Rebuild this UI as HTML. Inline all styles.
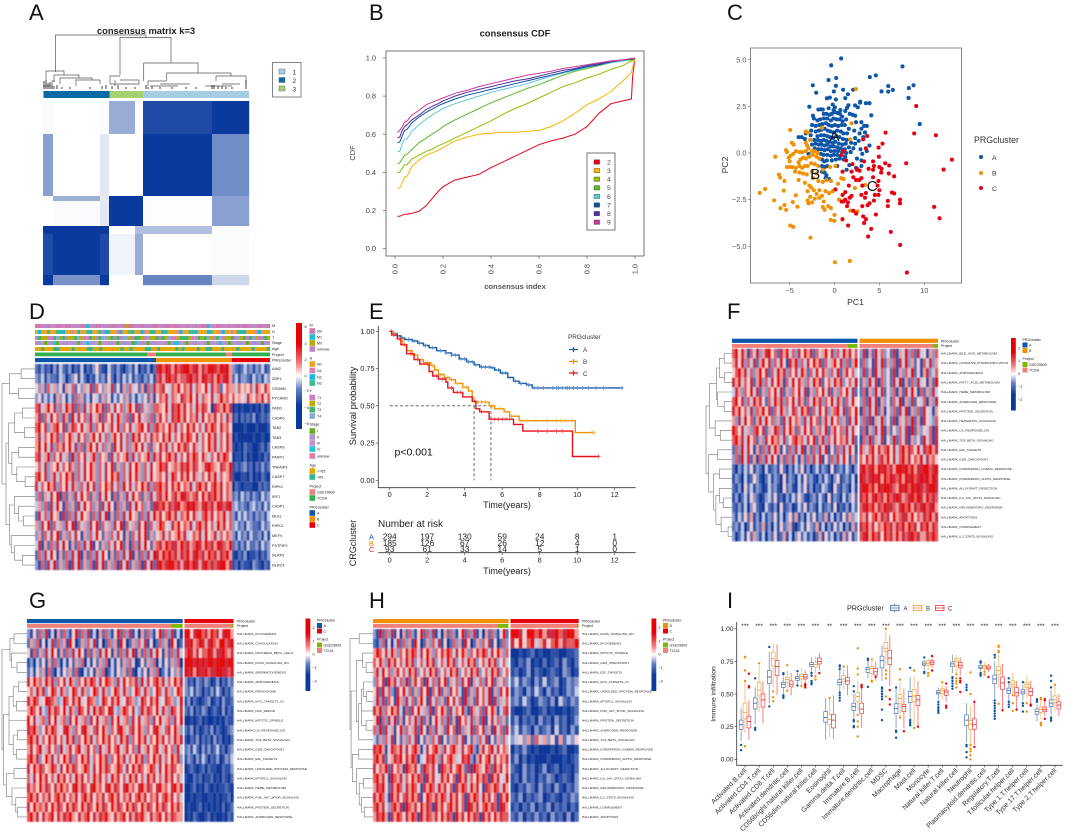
<!DOCTYPE html>
<html lang="en">
<head>
<meta charset="utf-8">
<title>PRG cluster multi-panel figure</title>
<style>
html,body{margin:0;padding:0;background:#fff;width:1065px;height:832px;overflow:hidden}
svg{display:block;font-family:"Liberation Sans",sans-serif}
</style>
</head>
<body>
<svg id="fig" xmlns="http://www.w3.org/2000/svg" width="1065" height="832" viewBox="0 0 1065 832">
<defs>
<filter id="soft" x="-2%" y="-2%" width="104%" height="104%"><feGaussianBlur stdDeviation="0.45"/></filter>
<linearGradient id="ramp" x1="0" y1="0" x2="0" y2="1">
<stop offset="0" stop-color="#e60008"/><stop offset=".2" stop-color="#e60008"/><stop offset=".38" stop-color="#f08080"/><stop offset=".5" stop-color="#ffffff"/><stop offset=".62" stop-color="#6a80c0"/><stop offset=".78" stop-color="#0a3a9a"/><stop offset="1" stop-color="#0a3a9a"/>
</linearGradient>
</defs>
<rect width="1065" height="832" fill="#fff"/>
<g font-size="22" fill="#111">
<text x="29" y="20">A</text>
<text x="369" y="20">B</text>
<text x="727" y="20">C</text>
<text x="29" y="319">D</text>
<text x="369" y="319">E</text>
<text x="727" y="319">F</text>
<text x="29" y="608">G</text>
<text x="369" y="608">H</text>
<text x="727" y="608">I</text>
</g>
<g id="pA">
<path fill="none" stroke="#555" stroke-width=".7" d="M55.5 72V35H146M146 35V37.5M120 75V37.5H171V63M143.7 81V63H198V73M166.7 81V73H231V76M216 81V76H246V82M46 80V71H64V75M54 82V75H79V78M60 84V78H92V80M76 86V80H100V84M110 84V76H120M110 84H139V80H120M115 86V80M148 86V81H166M150 86H178M160 84H190M205 86H232M222 84H240M43 86H50V83M52 88V81H55"/>
<path fill="none" stroke="#111" stroke-width=".8" d="M44 89V81M46 89V80M48 89V83M50 89V82M52 89V85M54 89V86M57 89V85M62 89V87M70 89V87M90 89V87M102 89V86M106 89V85M112 89V86M118 89V85M126 89V87M135 89V87M146 89V85M148 89V87M152 89V86M160 89V87M172 89V87M186 89V87M196 89V87M212 89V85M214 89V85M218 89V86M222 89V86M226 89V87M232 89V87M246 89V80"/>
<text x="146" y="34" text-anchor="middle" font-size="9.4" font-weight="bold" fill="#222">consensus matrix k=3</text>
<rect x="43.5" y="91" width="66" height="7" fill="#0a6aa8"/>
<rect x="109.5" y="91" width="33.5" height="7" fill="#a6d16f"/>
<rect x="143" y="91" width="106" height="7" fill="#a6cee3"/>
<g id="matrixCells"></g>
<g font-size="6.5" fill="#333">
<rect x="272.5" y="62.5" width="28.5" height="34.5" fill="#fff" stroke="#666" stroke-width=".8"/>
<rect x="279" y="69" width="6" height="5" fill="#a6cee3" stroke="#555" stroke-width=".4"/>
<rect x="279" y="77.5" width="6" height="5" fill="#0a6aa8" stroke="#555" stroke-width=".4"/>
<rect x="279" y="86" width="6" height="5" fill="#a6d16f" stroke="#555" stroke-width=".4"/>
<text x="292.5" y="74.5">1</text>
<text x="292.5" y="83">2</text>
<text x="292.5" y="91.5">3</text>
</g>
</g>
<g id="pB">
<text x="515" y="36.5" text-anchor="middle" font-size="9.4" font-weight="bold" fill="#222">consensus CDF</text>
<rect x="386" y="51" width="258" height="205" fill="none" stroke="#666" stroke-width=".9"/>
<text x="515" y="289" text-anchor="middle" font-size="7.6" font-weight="bold" fill="#555">consensus index</text>
<text transform="translate(355 153) rotate(-90)" text-anchor="middle" font-size="7.4" fill="#444">CDF</text>
</g>
<g id="pC">
<rect x="750.5" y="48" width="211" height="235" fill="none" stroke="#888" stroke-width="1"/>
<text x="855.5" y="305" text-anchor="middle" font-size="8.6" fill="#333">PC1</text>
<text transform="translate(728 165) rotate(-90)" text-anchor="middle" font-size="8.6" fill="#333">PC2</text>
<text x="974" y="143" font-size="8.8" fill="#333">PRGcluster</text>
<circle cx="981" cy="157" r="2" fill="#0d56a8"/>
<circle cx="981" cy="173" r="2" fill="#f29100"/>
<circle cx="981" cy="188" r="2" fill="#e60012"/>
<text x="992" y="160" font-size="6.8" fill="#333">A</text>
<text x="992" y="175.5" font-size="6.8" fill="#333">B</text>
<text x="992" y="191" font-size="6.8" fill="#333">C</text>
</g>
<g id="pD"></g>
<g id="pE">
<text x="394.5" y="455.7" font-size="10.5" fill="#111">p&lt;0.001</text>
<text x="507" y="508" text-anchor="middle" font-size="9" fill="#222">Time(years)</text>
<text transform="translate(356 406) rotate(-90)" text-anchor="middle" font-size="9.4" fill="#222">Survival probability</text>
<text x="378" y="527" font-size="10" fill="#222">Number at risk</text>
<text x="507" y="574" text-anchor="middle" font-size="9" fill="#222">Time(years)</text>
<text transform="translate(356 543) rotate(-90)" text-anchor="middle" font-size="9" fill="#222">CRGcluster</text>
<text x="568" y="339" font-size="6.4" fill="#333">PRGcluster</text>
<text x="583" y="352" font-size="6.2" fill="#333">A</text>
<text x="583" y="364" font-size="6.2" fill="#333">B</text>
<text x="583" y="376" font-size="6.2" fill="#333">C</text>
<path d="M569 349.5H578M573.5 347V352" stroke="#1a5cab" stroke-width="1.3" fill="none"/>
<path d="M569 361.5H578M573.5 359V364" stroke="#f29100" stroke-width="1.3" fill="none"/>
<path d="M569 373H578M573.5 370.5V375.5" stroke="#e8101c" stroke-width="1.3" fill="none"/>
</g>
<g id="pF"></g>
<g id="pG"></g>
<g id="pH"></g>
<g id="pI">
<text x="847" y="610.5" font-size="7.2" fill="#222">PRGcluster</text>
<text transform="translate(715.5 694) rotate(-90)" text-anchor="middle" font-size="6.8" fill="#222">Immune infiltration</text>
<g fill="#fff" stroke-width=".8">
<path d="M894.5 604V612" stroke="#3f6db5"/>
<rect x="890.5" y="605.5" width="8.5" height="5" stroke="#3f6db5"/>
<path d="M890.5 608H899" stroke="#3f6db5"/>
<rect x="913.5" y="605.5" width="8.5" height="5" stroke="#f0a030"/>
<path d="M913.5 608H922" stroke="#f0a030"/>
<rect x="935.5" y="605.5" width="8.5" height="5" stroke="#e8303a"/>
<path d="M935.5 608H944" stroke="#e8303a"/>
</g>
<text x="903.5" y="610.5" font-size="6" fill="#333">A</text>
<text x="926" y="610.5" font-size="6" fill="#333">B</text>
<text x="948" y="610.5" font-size="6" fill="#333">C</text>
</g>
</svg>
<script>
/* ---------- panel A data ---------- */
const matrixColSizes=[10,47,9,26,8,69,37];
const matrixRowSizes=[33,62,5,25,8,41,10];
const matrixValues=[
[.02,0,.02,.42,.01,.92,1],
[.48,0,.12,0,.01,1,.58],
[0,.4,.1,1,1,.02,.48],
[0,.02,.12,1,1,.01,.48],
[1,1,1,0,.32,.32,.01],
[.92,1,.92,.06,.42,0,.02],
[1,.55,1,0,0,.62,.2]];
/* ---------- panel B data ---------- */
const cdfIndex=[.01,.02,.03,.04,.05,.07,.1,.13,.16,.18,.2,.25,.3,.35,.4,.45,.5,.55,.6,.65,.7,.75,.8,.85,.9,.95,.985,.99,1];
const cdfK2=[.17,.17,.175,.18,.18,.185,.195,.225,.27,.3,.325,.36,.375,.39,.425,.455,.485,.515,.545,.565,.58,.6,.64,.71,.76,.775,.785,.9,1];
const cdfK3=[.315,.32,.345,.375,.38,.43,.465,.49,.505,.515,.53,.565,.585,.6,.605,.61,.61,.615,.62,.64,.67,.71,.755,.785,.825,.88,.925,.95,1];
const cdfK4=[.4,.4,.42,.44,.44,.47,.49,.51,.525,.54,.55,.58,.61,.64,.67,.705,.735,.76,.79,.82,.85,.87,.895,.915,.94,.96,.985,.985,1];
const cdfK5=[.445,.45,.47,.49,.495,.52,.555,.58,.605,.62,.64,.675,.705,.735,.765,.79,.815,.84,.86,.885,.91,.93,.945,.96,.975,.985,.99,.99,1];
const cdfK6=[.51,.51,.55,.575,.575,.615,.65,.68,.705,.72,.735,.76,.78,.8,.82,.835,.85,.865,.885,.905,.92,.935,.95,.965,.975,.985,.995,.995,1];
const cdfK7=[.555,.56,.59,.62,.625,.66,.69,.715,.735,.75,.76,.785,.805,.82,.835,.85,.865,.88,.895,.91,.925,.94,.955,.965,.98,.99,.995,.995,1];
const cdfK8=[.58,.585,.62,.64,.65,.675,.7,.73,.75,.76,.775,.8,.82,.835,.85,.865,.88,.89,.905,.92,.935,.945,.96,.97,.98,.99,.995,.995,1];
const cdfK9=[.61,.62,.64,.665,.67,.7,.725,.755,.77,.78,.79,.815,.83,.85,.865,.88,.895,.91,.92,.93,.945,.955,.965,.975,.985,.99,.998,.998,1];
const cdfSeries=[cdfK2,cdfK3,cdfK4,cdfK5,cdfK6,cdfK7,cdfK8,cdfK9];
const cdfLabels=['2','3','4','5','6','7','8','9'];
const cdfColors=['#e6001a','#f7b500','#8cc000','#5db82c','#5ec8d8','#0b4ea2','#5030a0','#c83c98'];
const cdfTicks=[0,.2,.4,.6,.8,1];
/* ---------- panel C data ---------- */
const pcaA=[[.74,5.07],[-.37,4.7],[7.58,4.64],[-.67,3.91],[.19,4.02],[4.61,4.16],[3.94,4.07],[-2.42,3.63],[5.99,3.59],[8.81,3.63],[8.29,3.48],[6.5,3.38],[5.99,3.29],[5.24,3.3],[-2.04,3.23],[-.07,3.3],[.15,3.6],[.96,3.39],[2.08,3.39],[8.25,2.95],[1.5,3.15],[1.2,2.94],[-.85,2.93],[-.52,2.97],[.15,2.87],[2.87,2.75],[3.5,2.67],[3.9,2.67],[2.3,2.55],[1.55,2.56],[1.4,2.42],[-2.81,2.48],[9.5,1.55],[4.1,2.02],[2.85,2.7],[-.2,2.6],[.04,2.45],[-.1,2.3],[-1.8,2.33],[-1.5,2.34],[-1.3,2.33],[-1.2,2.1],[-.65,2.4],[.65,2.3],[1.2,2.25],[1.7,2.1],[2.0,2.05],[2.3,2.0],[2.6,2.45],[-.9,2.1],[-.55,2.05],[-.3,2.1],[0,2.2],[.3,2.15],[.6,2.1],[.85,1.95],[-2.4,2.0],[-2.3,1.85],[-1.9,1.75],[-1.6,1.8],[-1.2,1.85],[-.8,1.85],[-.4,1.75],[-.1,1.85],[.25,1.8],[.55,1.8],[.9,1.7],[1.3,1.8],[2.4,1.65],[3,1.65],[3.6,1.45],[3.3,1.45],[-2.5,1.5],[-2.1,1.45],[-1.7,1.5],[-1.35,1.55],[-.95,1.6],[-.65,1.5],[-.3,1.45],[.05,1.5],[.4,1.45],[.8,1.5],[1.15,1.5],[1.6,1.3],[2.2,1.2],[3,1.3],[3.4,1.1],[2.8,1.05],[-2.6,1.2],[-2.1,1.15],[-1.75,1.2],[-1.45,1.25],[-1.1,1.3],[-.75,1.2],[-.45,1.15],[-.1,1.1],[.3,1.2],[.7,1.15],[1,1.05],[1.4,1.05],[-3.2,1.05],[-2.65,.95],[-1.9,.9],[-1.5,.95],[-1.15,.95],[-.8,.9],[-.5,.85],[-.15,.8],[.2,.9],[.55,.85],[.95,.75],[1.35,.7],[2.3,.8],[3.2,.85],[-4,.85],[-3.65,.85],[-3.3,.75],[-2.25,.7],[-1.85,.7],[-1.5,.65],[-1.2,.7],[-.9,.65],[-.55,.6],[-.2,.55],[.1,.6],[.5,.5],[.9,.45],[1.25,.5],[1.85,.55],[2.3,.5],[2.7,.65],[-2.5,.45],[-2.1,.5],[-1.75,.45],[-1.45,.45],[-1.1,.4],[-.8,.45],[-.45,.35],[-.1,.35],[.3,.3],[.7,.25],[1.15,.2],[1.6,.3],[2.1,.25],[2.9,.2],[3.9,.4],[-2.2,.25],[-1.8,.2],[-1.45,.2],[-1.1,.15],[-.75,.2],[-.4,.1],[0,.1],[.4,.1],[.85,.05],[1.3,0],[1.8,.05],[3.1,-.05],[3.6,.1],[-2.9,-.05],[-1.5,-.05],[-1.2,-.1],[-.8,-.1],[-.4,-.15],[-.1,-.1],[.3,-.1],[.7,-.15],[1.2,-.2],[2.5,-.3],[3,-.4],[-1.4,-.35],[-1.15,-.45],[-.85,-.4],[-.3,-.4],[.15,-.35],[.55,-.3],[1,-.35],[1.65,-.65],[-1.4,-.7],[-1.1,-.75],[-.8,-.7],[.3,-.7],[1.35,-.9],[-1.4,-1],[-1.1,-1.05],[-.9,-1.2],[-1,-1.35],[-.6,-1.4],[2.4,-.8],[3,-.7]];
const pcaB=[[2.38,3.43],[-4.94,1.23],[1.9,1.59],[1.75,.73],[-3.2,1.15],[-3,1.1],[-1.4,1.35],[-6.6,-.2],[-7.73,-1.93],[-8.33,-2.14],[-6.73,-2.54],[-6.02,-2.96],[-5.58,-2.79],[-5.39,-3.05],[-4.65,-2.63],[-4.13,-2.88],[-4.31,-2.27],[-5.65,-2.02],[-5.58,-1.5],[-6.06,-1.32],[-6.2,-1.16],[-4.94,-3.89],[-4.61,-3.96],[-2.68,-4.54],[.04,-5.86],[1.71,-5.79],[-.41,-3.59],[0,-3.64],[0,-3.32],[1.75,-3.09],[2.57,-3.13],[2.27,-1.88],[3.42,-1.71],[-4.75,.55],[-4.55,.45],[-3.2,.55],[-3.05,.4],[-2.7,.7],[-5.4,.15],[-5.3,.05],[-4.9,-.15],[-5.1,-.25],[-4.6,-.05],[-4.3,.1],[-3.9,.05],[-3.6,.05],[-3.2,.1],[-2.9,.25],[-2.5,.1],[-2.2,.1],[-1.9,0],[-5,-.45],[-5.3,-.75],[-5,-.75],[-4.7,-.75],[-4.3,-.8],[-4,-.5],[-3.8,-.35],[-3.5,-.25],[-3.2,-.3],[-2.8,-.2],[-2.4,-.1],[-2,-.2],[-1.7,-.3],[-3.9,-.7],[-3.6,-.8],[-3.3,-.7],[-3,-.7],[-2.6,-.55],[-2.2,-.6],[-1.8,-.7],[-4.4,-1.0],[-3.9,-1.05],[-3.5,-1.1],[-3.1,-1.15],[-2.5,-1],[-2,-1.1],[-1.3,-.9],[-.5,-.75],[.1,-.7],[-4,-1.45],[-3.3,-1.6],[-2.8,-1.75],[-2.4,-1.35],[-1.8,-1.5],[-1.3,-1.55],[-.9,-1.45],[-.4,-1.5],[.4,-1.65],[.75,-1.35],[1,-1.4],[-3,-2.05],[-2.6,-1.85],[-2.3,-2],[-2,-2.2],[-1.7,-2],[-1.4,-2.3],[-1,-2.05],[-.6,-2.15],[-.2,-2.05],[-2.7,-2.35],[-2.2,-2.45],[-1.7,-2.4],[-1.2,-2.6],[-3,-2.55],[-2.9,-2.7],[-2.5,-2.65],[-1.3,-2.9],[-1.1,-3.05],[-.7,-2.85],[-.4,-2.95],[.5,-2.5],[.8,-2.6]];
const pcaC=[[9.11,2.52],[8.88,1.05],[11.3,.95],[13.09,-.36],[12.16,-.89],[7.99,-.55],[5.69,1.09],[5.35,.5],[4.91,.29],[3.64,.91],[3.2,.73],[3.49,.25],[11.11,-2.89],[11.71,-3.5],[7.32,-4.93],[8.07,-6.41],[6.28,-4.23],[4.61,-3.3],[4.09,-4.07],[3.75,-4.48],[1.52,-3.89],[.89,-3.55],[7.3,-2.5],[7.3,-2.7],[5.95,-2.57],[5.95,-2.85],[6.4,-2.12],[6.65,-2.17],[6.65,-1.25],[6.05,-1.1],[6.1,-.67],[5.65,-.55],[1,.1],[.8,-.1],[1.3,-.4],[2,-.6],[2.5,-.85],[3.3,-.45],[4.3,-.45],[4.95,-.2],[4.4,-.7],[5,-.75],[5.25,-.85],[5.2,-1.05],[4.3,-.9],[3.8,-.85],[2.5,-.9],[2.8,-.95],[1.9,-1],[.9,-1],[2.1,-1.3],[2.4,-1.45],[2.75,-1.45],[3,-1.35],[4.3,-1.3],[4.9,-1.5],[1.6,-1.75],[1.2,-2.1],[.1,-1.95],[3.1,-1.75],[3.5,-2.15],[3,-2.25],[3.4,-2.4],[4.8,-1.75],[5,-2],[4.9,-2.25],[4.5,-2.25],[4.4,-2.55],[3.9,-2.7],[3.7,-2.8],[.9,-2.25],[1,-2.6],[1.2,-2.5],[1.7,-2.4],[1.9,-2.3],[.8,-2.6],[1.5,-2.65],[1.4,-2.85],[3.1,-2.85],[2.1,-3.1],[2.4,-3.25],[3.2,-3.4],[3.5,-3.55],[3.3,-3.75]];
const pcaXTicks=[-5,0,5,10];
const pcaYTicks=[-5,-2.5,0,2.5,5];
const pcaYLabels=['−5.0','−2.5','0.0','2.5','5.0'];
const pcaXLabels=['−5','0','5','10'];
const pcaCentroids=[['A',0,.95],['B',-2.15,-1.1],['C',4.2,-1.75]];
/* ---------- panel D data ---------- */
const geneLabels=['AIM2','ZBP1','GSDMD','PYCARD','FADD','CASP6','TAB2','TAB3','CASP8','PARP1','TNFAIP3','CASP7','RIPK1','IRF1','CASP1','MLKL','RIPK3','MEFV','PSTPIP2','NLRP3','NLRC4'];
const geneRows=[
"2131203142130214021352104213102314021302|8979869789978968799879896|3212423132412",
"3241322143023514202142315203142413213241|7868978677897869878697896|2413321423143",
"5362746351647253648275364825163745261738|6785476957684765948672576|6475657486586",
"3524241635142736241542635142536241435261|5768476587695847658469675|7565486576857",
"7846958374968273847596827485736958274637|7659487968574968750876968|0101001010201",
"6827495738629485739468275849637285946372|6857487968576849576857486|1202121301212",
"7958367958268759468375946859375846795837|8675968475968574869758675|0000100010001",
"6847596837596485736958473695847396857486|7586947586975847596847586|0100000100100",
"6959483768594837269584736295847369584726|5868475968758647596847586|1010211001202",
"7846937584629375846937562847569384756938|6857968475869758647586975|0110201001021",
"5748365947586374859637485926374859637485|6978567687968756897658769|1212312021312",
"7958368475968374859637485968374958637495|6758497586958647586947568|1001102010210",
"8475968375948637495837596847395847596837|7968586957684796857968576|0210111002121",
"3726485917263849572638495172638495726384|7869578698767859687968576|2314231321423",
"4637284951736284957362849517362849573628|8796878967989768978698789|3423213423142",
"2847395618273849562738491627384956273849|6857968476958647968576947|3142423132314",
"6385927463859174638592746385917463859274|6975486957684796857496857|3423143221423",
"3627485926374851637495263748516274859263|5684756968457684956847576|3142314223141",
"4816273849516273849152637485926173849526|7869788697867986978698769|2313142231423",
"2738495162738491627384951627384916273849|8697978687968978697868796|1021301120213",
"3172849263718492637184926371849263718492|8978997868979868978789968|1202110321021"];
const geneTree=[1,[.78,[.42,0,1],[.5,2,3]],[.88,[.8,[.62,[.38,4,5],[.32,6,7]],[.7,[.5,8,9],[.55,10,[.3,11,12]]]],[.78,[.62,13,[.5,14,[.35,15,16]]],[.72,17,[.62,18,[.38,19,20]]]]]];
const trackNames=['M','N','T','Stage','Age'];
const trackM="aaddaddaadaadddaabddaadddaaddacaaddadddaaddaadaaddaddadaabddaaddaddadaadddadda";
const trackN="acaadaaddcaabacaadcaadbcdaabcaaddaacbaddaacdaaabcaaddcaaacdaabcaabaddcaaabcaaa";
const trackT="acbbaacdbcabbcdbaacbacddbcacaddbaccbadbbcacbdaabcccbaacbcdbacdabbcadbcacdbaacb";
const trackStage="bbcabbdacbbcbbabcdbbcaccbbcabbbcadcbbacbcccbabddcbacbbccbabcbdcbabcbbcacbbbabc";
const trackAge="aabaaabbaaaabaaaabbaabaaaaaabaabaaaabbaabaaaaababaaaabaabbaaabaaaabaaaabaaaab";
const trackRows=[trackM,trackN,trackT,trackStage,trackAge];
const trackColors=[['#d276ac','#20bcd6','#b5ae00','#bf86c8'],['#eaa51e','#dc7eb0','#12b6e6','#3ab892'],['#d07cc0','#bcae00','#3fb56a','#86a8de'],['#62ae1e','#a792d2','#c090d0','#20bedf'],['#e2a800','#34b48e']];
const trackLetters='abcd';
const legendGroupsD=[
['M',325,[['M0',331,'#d276ac'],['M1',337,'#20bcd6'],['MX',343,'#b5ae00'],['unknow',349,'#bf86c8']]],
['N',358,[['N0',364,'#eaa51e'],['N1',370.5,'#dc7eb0'],['N2',377,'#12b6e6'],['N3',383,'#3ab892']]],
['T',391,[['T1',397.5,'#d07cc0'],['T2',403.5,'#bcae00'],['T3',409.7,'#3fb56a'],['T4',416,'#86a8de']]],
['Stage',424,[['I',431,'#62ae1e'],['II',437,'#a792d2'],['III',443,'#c090d0'],['IV',449,'#20bedf'],['unknow',456,'#e878a8']]],
['Age',465,[['<=65',471,'#e2a800'],['>65',477,'#34b48e']]],
['Project',486,[['GSE29609',492,'#f08078'],['TCGA',498,'#30b050']]],
['PRGcluster',507,[['A',513,'#0a56a8'],['B',519,'#f29100'],['C',525,'#e60008']]]];
const colorbarTicksD=['6','4','2','0','−2','−4','−6'];
/* ---------- panel E data ---------- */
const kmTicksX=[0,2,4,6,8,10,12];
const kmTicksY=[0,.25,.5,.75,1];
const kmTimeA=[0,.2,.4,.6,.8,1.2,1.5,1.8,2.1,2.5,3,3.3,3.7,4.1,4.5,4.8,5.4,5.6,5.9,6.3,6.6,6.9,7.3,7.6,12.4];
const kmSurvA=[1,.985,.97,.955,.945,.935,.92,.905,.89,.87,.855,.84,.815,.795,.775,.76,.755,.74,.72,.69,.665,.65,.64,.62,.62];
const kmTimeB=[0,.2,.4,.7,.9,1.2,1.5,1.8,2.2,2.4,2.6,2.9,3.2,3.5,3.9,4.2,4.4,4.5,5.3,5.6,6.1,6.4,6.9,9.9,10.9];
const kmSurvB=[1,.98,.95,.91,.87,.84,.81,.79,.77,.74,.71,.69,.675,.65,.625,.6,.55,.525,.5,.48,.46,.43,.4,.32,.32];
const kmTimeC=[0,.1,.4,.6,.9,1.3,1.6,2.1,2.3,2.6,3,3.1,3.4,3.9,4.4,4.6,4.8,5.3,6.6,7.1,9.75,11.15];
const kmSurvC=[1,.975,.95,.91,.85,.81,.78,.73,.7,.68,.66,.62,.59,.56,.53,.48,.46,.41,.375,.33,.16,.16];
const censorA=[.1,.4,.7,1,1.3,1.6,1.9,2.3,2.7,3,3.3,3.5,3.8,4,4.2,4.4,4.6,4.9,5.1,5.3,5.5,5.8,6,6.2,6.7,7,7.4,7.7,7.9,8.2,8.7,8.9,9,9.2,9.4,9.5,9.6,9.8,10,10.3,10.6,11,11.4,12.4];
const censorB=[.1,.3,1.3,1.7,2,2.3,2.7,3.1,3.3,3.6,3.9,4.1,4.7,4.9,5.1,5.5,5.9,6.2,6.5,7,7.3,7.8,8.4,8.9,9.1,9.4,9.7,10.8,10.9];
const censorC=[.2,.5,.8,1.1,1.5,2,2.5,2.8,3.3,3.6,3.8,4.9,5.6,5.8,6,6.2,6.4,7.9,8.4,8.9,9.2,11.15];
const riskA=[294,197,130,59,24,8,1];
const riskB=[185,126,67,26,12,4,0];
const riskC=[93,61,33,14,5,1,0];
/* ---------- heatmaps F, G, H data ---------- */
const labelsF=['BILE_ACID_METABOLISM','OXIDATIVE_PHOSPHORYLATION','ADIPOGENESIS','FATTY_ACID_METABOLISM','HEME_METABOLISM','ANDROGEN_RESPONSE','PROTEIN_SECRETION','HEDGEHOG_SIGNALING','UV_RESPONSE_DN','TGF_BETA_SIGNALING','E2F_TARGETS','G2M_CHECKPOINT','INTERFERON_GAMMA_RESPONSE','INTERFERON_ALPHA_RESPONSE','ALLOGRAFT_REJECTION','IL6_JAK_STAT3_SIGNALING','INFLAMMATORY_RESPONSE','APOPTOSIS','COMPLEMENT','IL2_STAT5_SIGNALING'];
const rowsF=[
"795861749368957286947385968274695837496857|38162947352816493728451637",
"685937482695837495186937485968274695837269|27351849263718493625174836",
"579684736958274968375849627495863749268574|38261947352816374925168347",
"869475826937485961749586374968257496835749|26394817352849162738451629",
"486375948263759482637594816375948263759482|27163948253716284951726384",
"795837496852749683759486274968375948627495|37294816352749163825471638",
"869574837695827496358749682749583679482759|17384926153728491637285416",
"638495726849573628495763849572684957362849|37281649352816473926185437",
"975846379582649738596274958367492685739485|27163849162537481926354718",
"796849572638596748357967485926837495768492|17392648153927481635294718",
"273948516273849615273849162738491527384951|86479586795847968759487968",
"372948261738495162738416273849152738495162|75869478695847968576948675",
"203142513204123152031425130241320512314203|89789698978699897968899789",
"132041253102413205132041523103142035123140|98789896979879698978989798",
"213052413201423105231042513021431052132041|89979698998769897989878998",
"130241532013425120314253102314205132041352|87968978697898678979869787",
"213140352104213051230142513204123150213042|78979687988768979687897896",
"314252613041325140352613042513261403152634|76857968785967886957687968",
"231402513261304152361024153261403152403162|87968576978687969785879687",
"302415263140325126140352413026152403162513|78969785978696878978668797"];
const treeF=[1,[.87,[.6,[.48,[.3,0,1],[.28,2,3]],[.55,4,[.3,5,6]]],[.65,7,[.45,8,9]]],[.9,[.55,10,11],[.72,[.48,12,13],[.62,[.48,14,[.34,15,16]],[.42,17,[.15,18,19]]]]]];
const labelsG=['MYOGENESIS','COAGULATION','PANCREAS_BETA_CELLS','KRAS_SIGNALING_DN','SPERMATOGENESIS','ADIPOGENESIS','PEROXISOME','MYC_TARGETS_V1','DNA_REPAIR','MITOTIC_SPINDLE','UV_RESPONSE_DN','TGF_BETA_SIGNALING','G2M_CHECKPOINT','E2F_TARGETS','UNFOLDED_PROTEIN_RESPONSE','MTORC1_SIGNALING','HEME_METABOLISM','PI3K_AKT_MTOR_SIGNALING','PROTEIN_SECRETION','ANDROGEN_RESPONSE'];
const rowsG=[
"3152738140627315927381406273159273814062731592738140|99589978697858996",
"2637150482736195026374815027361950263748150273619502|88967986897699789",
"5172638495162738495172638495162738491627384951627384|79868577986889768",
"1304251627304152637041526370415263740152637041526370|99989898998999899",
"2415361720415362710425163702415362710425163702415362|98969889788998879",
"8596749683758496375869748597638495768394857968475968|31203213201302132",
"5749683597486359748635974863597486359748635974863597|32413202131420213",
"8697459876349758694587634975869458763497586945876349|13021012301203112",
"6975843968759486397584968759843697584396875948639758|21302132012103021",
"9584673859467385946738594673859467385946738594673859|00101201001010211",
"8796358697458963758964785963758964785963758964785963|21302012130210123",
"7968475968574968375968475968574968375968475968574968|10213021203120102",
"6857946857394685794685739468579468573946857946857394|23142031312412023",
"7968359684759683759684759683759684759683759684759683|13203142021301324",
"8596875697485968756974859687569748596875697485968756|01210120211002113",
"7485968574968574968574968574968574968574968574968574|10021201120102102",
"8675968758696758968758967589687589675896875896758968|00120102101011210",
"7968576857968576857968576857968576857968576857968574|00101100110101120",
"8596768596875968759687596875968759687596875968759686|01001201010102012",
"7968586795868796586795868796586795868796586795868766|01021001201001021"];
const treeG=[1,[.68,[.52,0,1],[.62,2,[.4,3,4]]],[.95,[.72,[.55,[.35,5,6],[.42,7,8]],[.72,9,[.55,[.38,10,11],[.42,12,13]]]],[.82,[.52,14,15],[.6,16,[.45,17,[.38,18,19]]]]]];
const labelsH=['KRAS_SIGNALING_DN','MYOGENESIS','MITOTIC_SPINDLE','G2M_CHECKPOINT','E2F_TARGETS','MYC_TARGETS_V1','UNFOLDED_PROTEIN_RESPONSE','MTORC1_SIGNALING','PI3K_AKT_MTOR_SIGNALING','PROTEIN_SECRETION','ANDROGEN_RESPONSE','TGF_BETA_SIGNALING','INTERFERON_GAMMA_RESPONSE','INTERFERON_ALPHA_RESPONSE','ALLOGRAFT_REJECTION','IL6_JAK_STAT3_SIGNALING','INFLAMMATORY_RESPONSE','IL2_STAT5_SIGNALING','COMPLEMENT','APOPTOSIS'];
const rowsH=[
"3192738150627315927381406273159273814062731592|99859979688978996",
"2137150482736195026374815027361950263748150273|85957946857968779",
"6975849637586974859637586974859637586974859637|00101201001100112",
"7586396857496835749683574968357496835749683574|10213010201203102",
"6849573685749683574968357496835749683574968357|12013021012103201",
"3758196847392685719473859264738591647385926473|24132031412301323",
"5829473185947263859174926385741926385749163859|13203142031201324",
"4938275196384726951847362958471936285749183647|23142013213042132",
"8693759684172859463817596284759318647285961478|10012001201001012",
"5917384926157493826159473826195748362915847362|13021203120312013",
"7392846159374682951738462957183649275836194728|24132031230412031",
"4263748152637481526374815263748152637481526374|34536274635162435",
"8796158769485796148579638579648579316857948576|02131010001012001",
"7968256879586971458796385796458793168579485768|13020100010001012",
"8576928576197685297685197685796281976587296857|21031201301201102",
"7968519768475968719685496857196847596871968549|12031202132012103",
"6879528697486975186974968571869749685187697496|10213203120310213",
"8697419685786968159768697496857186974968571869|21302123012102132",
"7968537968197685968719685796857198685796871986|12021302130212021",
"6879618697586971968768596871968596871968596877|21302131203120302"];
const treeH=[1,[.6,0,1],[.95,[.72,[.45,2,[.3,3,4]],[.62,[.5,[.42,5,[.28,6,7]],[.5,8,[.3,9,10]]],11]],[.9,[.62,12,13],[.72,14,[.6,[.42,15,16],[.5,17,[.38,18,19]]]]]]];
const colorScale=['#0a3496','#2b4fa6','#5570b6','#8a9ace','#c4cbe4','#f4d0d0','#ef9c98','#e45c60','#cc2c40','#e40808'];
const colorbarTicks=['2','1','0','−1','−2'];
/* ---------- panel I data: [whisker-low, q1, median, q3, whisker-high] ---------- */
const immuneCells=['Activated.B.cell','Activated.CD4.T.cell','Activated.CD8.T.cell','Activated.dendritic.cell','CD56bright.natural.killer.cell','CD56dim.natural.killer.cell','Eosinophil','Gamma.delta.T.cell','Immature.B.cell','Immature.dendritic.cell','MDSC','Macrophage','Mast.cell','Monocyte','Natural.killer.T.cell','Natural.killer.cell','Neutrophil','Plasmacytoid.dendritic.cell','Regulatory.T.cell','T.follicular.helper.cell','Type.1.T.helper.cell','Type.17.T.helper.cell','Type.2.T.helper.cell'];
const immuneSig=['***','***','***','***','***','***','**','***','***','***','***','***','***','***','***','***','***','***','***','***','***','***','***'];
const immuneTicks=[0,.25,.5,.75,1];
const boxesA=[[.14,.23,.265,.3,.39],[.27,.385,.43,.47,.55],[.43,.58,.63,.68,.82],[.5,.55,.575,.59,.63],[.575,.605,.62,.635,.66],[.67,.71,.725,.74,.78],[.15,.285,.32,.365,.47],[.5,.57,.59,.61,.68],[.31,.375,.405,.43,.5],[.62,.665,.69,.705,.76],[.6,.7,.755,.79,.87],[.24,.35,.39,.425,.545],[.31,.435,.48,.52,.63],[.685,.72,.73,.745,.76],[.46,.5,.51,.525,.55],[.66,.71,.73,.745,.8],[.13,.26,.3,.34,.43],[.67,.695,.705,.72,.74],[.46,.58,.615,.645,.75],[.45,.505,.525,.545,.58],[.45,.5,.515,.535,.57],[.29,.345,.365,.385,.42],[.34,.405,.43,.455,.53]];
const boxesB=[[.2,.31,.36,.43,.6],[.36,.485,.53,.59,.72],[.55,.715,.77,.82,.89],[.54,.59,.61,.625,.68],[.57,.615,.635,.65,.7],[.66,.705,.725,.745,.79],[.17,.265,.305,.345,.47],[.53,.595,.615,.64,.69],[.37,.445,.48,.51,.6],[.61,.655,.695,.71,.75],[.72,.825,.85,.895,.98],[.33,.43,.465,.495,.585],[.26,.44,.485,.535,.64],[.68,.72,.735,.755,.77],[.46,.505,.525,.54,.57],[.65,.72,.75,.77,.8],[.12,.23,.27,.295,.41],[.68,.695,.71,.72,.74],[.55,.65,.68,.71,.8],[.5,.555,.575,.6,.66],[.47,.55,.57,.59,.64],[.31,.36,.38,.4,.45],[.37,.435,.455,.485,.56]];
const boxesC=[[.15,.24,.29,.33,.45],[.275,.4,.455,.5,.6],[.49,.64,.71,.755,.88],[.49,.555,.575,.6,.66],[.58,.615,.63,.65,.68],[.68,.73,.75,.775,.81],[.155,.24,.3,.345,.49],[.49,.575,.6,.625,.72],[.24,.35,.385,.43,.54],[.6,.645,.67,.695,.75],[.56,.725,.775,.835,.95],[.24,.365,.405,.42,.54],[.26,.41,.455,.49,.6],[.7,.725,.74,.755,.77],[.44,.49,.515,.53,.56],[.64,.7,.72,.74,.78],[.11,.23,.265,.31,.43],[.67,.69,.7,.715,.73],[.38,.535,.585,.63,.73],[.39,.485,.51,.55,.6],[.43,.49,.52,.545,.6],[.33,.365,.38,.4,.44],[.33,.385,.415,.44,.5]];
const outliersA=[[.07,.11],[.225,.24,.62],[.405,.86],[.47,.48,.49,.65,.66],[.565,.675],[.575,.585,.6,.64,.66],[],[.45,.47,.49,.51,.69,.71,.72],[.245,.255,.29,.3,.52,.56],[.555,.76,.77],[.3,.38,.46,.48,.5,.52,.54,.55],[.165,.21,.22,.55],[.26,.27,.285,.3,.7],[.66,.67,.78],[.355,.37,.385,.4,.42,.44],[.54,.56,.58,.6,.62,.63],[.015,.055,.1,.11,.53,.55,.57],[.64,.65,.66,.74,.75],[.31,.33,.35,.37,.39,.41,.43,.45,.78,.8],[.4,.42,.44,.59,.62],[.365,.41,.43,.59],[.44,.45,.46],[.295,.31,.32,.55,.6,.64]];
const outliersB=[[.1,.6,.68,.78,.785],[.735],[.445,.475,.52],[.525,.72],[.56],[.61,.635],[.47],[.71],[.175,.25,.29,.34,.65,.695,.85],[.595,.6,.765],[.48,.62,.65,.68,1],[.32,.61,.69],[.24,.68],[.64,.66],[.59],[.55,.58,.6,.62,.65],[0,.03,.06,.08,.11,.5,.665],[.65,.67],[.425,.82,.83,.86,.87],[.37,.43,.49],[.365,.43],[.26,.27,.28,.46,.47],[.57]];
const outliersC=[[.55,.56,.655],[],[],[],[.55,.565,.575],[.66],[],[],[.55,.56,.57],[.63],[.42,.46,.53],[.215],[.25],[.68,.79],[.395,.41,.58],[.515,.59,.6,.62],[.095,.44],[.63],[.375],[.38],[.41,.42],[.31,.45,.46],[]];

/* ---------- helpers ---------- */
const NS='http://www.w3.org/2000/svg';
function mk(tag,attrs,parent,txt){
  const n=document.createElementNS(NS,tag);
  for(const k in attrs)n.setAttribute(k,attrs[k]);
  if(txt!==undefined)n.textContent=txt;
  parent.appendChild(n);
  return n;
}
const $=id=>document.getElementById(id);
function lerpHex(a,b,t){
  const pa=[1,3,5].map(i=>parseInt(a.substr(i,2),16));
  const pb=[1,3,5].map(i=>parseInt(b.substr(i,2),16));
  return 'rgb('+pa.map((v,i)=>Math.round(v+(pb[i]-v)*t)).join(',')+')';
}
function treePath(node,rowY,xRight,w,out){
  if(typeof node==='number')return {x:xRight,y:rowY(node)};
  const a=treePath(node[1],rowY,xRight,w,out);
  const b=treePath(node[2],rowY,xRight,w,out);
  const x=xRight-node[0]*w;
  out.push('M'+a.x.toFixed(1)+' '+a.y.toFixed(1)+'H'+x.toFixed(1)+'V'+b.y.toFixed(1)+'H'+b.x.toFixed(1));
  return {x:x,y:(a.y+b.y)/2};
}

/* ---------- panel A ---------- */
(function(){
  const g=$('matrixCells');
  const sx=206/matrixColSizes.reduce((a,b)=>a+b,0);
  const sy=184/matrixRowSizes.reduce((a,b)=>a+b,0);
  let y=101;
  matrixValues.forEach((row,r)=>{
    let x=43;
    row.forEach((v,c)=>{
      const w=matrixColSizes[c]*sx,h=matrixRowSizes[r]*sy;
      const cell=mk('rect',{x:x,y:y,width:w+.2,height:h+.2,fill:lerpHex('#ffffff','#0b3a9e',v)},g);
      
      
      x+=w;
    });
    y+=matrixRowSizes[r]*sy;
  });
})();

/* ---------- panel B ---------- */
(function(){
  const g=$('pB');
  const X=v=>395+240*v, Y=v=>248.6-190.6*v;
  cdfTicks.forEach(t=>{
    const a=mk('path',{d:'M'+X(t)+' 256V259M386 '+Y(t)+'H383',stroke:'#666','stroke-width':.7,fill:'none'},g);
    
    
    const l=mk('text',{x:376,y:Y(t)+2.6,'text-anchor':'end','font-size':7.4,fill:'#444'},g,t.toFixed(1));
    
    
    const m=mk('text',{transform:'translate('+(X(t)+2.6)+' 264) rotate(-90)','text-anchor':'end','font-size':7.4,fill:'#444'},g,t.toFixed(1));
    
    
  });
  cdfSeries.forEach((s,i)=>{
    const d=s.map((v,j)=>(j?'L':'M')+X(cdfIndex[j]).toFixed(1)+' '+Y(v).toFixed(1)).join('');
    const p=mk('path',{d:d,fill:'none',stroke:cdfColors[i],'stroke-width':1},g);
    
    
  });
  const box=mk('rect',{x:587,y:153,width:28,height:77,fill:'#fff',stroke:'#555','stroke-width':.8},g);
  
  
  cdfLabels.forEach((lab,i)=>{
    const y=162+i*8.6;
    const sw=mk('rect',{x:594,y:y-2.2,width:5.6,height:4.4,fill:cdfColors[i],stroke:'#444','stroke-width':.4},g);
    
    
    const t=mk('text',{x:607,y:y+2.4,'font-size':6.8,fill:'#444'},g,lab);
    
    
  });
})();

/* ---------- panel C ---------- */
(function(){
  const g=$('pC');
  const X=v=>834.5+8.97*v, Y=v=>153-18.65*v;
  pcaYTicks.forEach((t,i)=>{
    const a=mk('path',{d:'M750.5 '+Y(t)+'H748',stroke:'#666','stroke-width':.6},g);
    
    
    const l=mk('text',{x:746.5,y:Y(t)+2.6,'text-anchor':'end','font-size':7.4,fill:'#555'},g,pcaYLabels[i]);
    
    
  });
  pcaXTicks.forEach((t,i)=>{
    const a=mk('path',{d:'M'+X(t)+' 283V285.5',stroke:'#666','stroke-width':.6},g);
    
    
    const l=mk('text',{x:X(t),y:293,'text-anchor':'middle','font-size':7.4,fill:'#555'},g,pcaXLabels[i]);
    
    
  });
  pcaA.forEach(p=>{
    const c=mk('circle',{cx:X(p[0]),cy:Y(p[1]),r:2.05,fill:'#0d56a8'},g);
    
    
  });
  pcaB.forEach(p=>{
    const c=mk('circle',{cx:X(p[0]),cy:Y(p[1]),r:2.05,fill:'#f29100'},g);
    
    
  });
  pcaC.forEach(p=>{
    const c=mk('circle',{cx:X(p[0]),cy:Y(p[1]),r:2.05,fill:'#e60012'},g);
    
    
  });
  pcaCentroids.forEach(p=>{
    const t=mk('text',{x:X(p[1]),y:Y(p[2])+5.5,'text-anchor':'middle','font-size':15,fill:'#111'},g,p[0]);
    
    
  });
})();

/* ---------- generic heatmap ---------- */
function drawHeatmap(g,rows,groupX,y0,y1){
  const holder=mk('g',{filter:'url(#soft)'},g);
  
  
  const rh=(y1-y0)/rows.length;
  rows.forEach((row,r)=>{
    row.split('|').forEach((part,k)=>{
      const x0=groupX[k][0],w=(groupX[k][1]-x0)/part.length;
      for(let i=0;i<part.length;i++){
        const cell=mk('rect',{x:(x0+i*w).toFixed(2),y:(y0+r*rh).toFixed(2),width:(w+.15).toFixed(2),height:(rh+.1).toFixed(2),fill:colorScale[+part[i]]},holder);
        
        
      }
    });
  });
}
function drawRowLabels(g,labels,prefix,x,y0,y1,size){
  const rh=(y1-y0)/labels.length;
  labels.forEach((lab,r)=>{
    const t=mk('text',{x:x,y:y0+(r+.5)*rh+size*.35,'font-size':size,fill:'#222'},g,prefix+lab);
    
    
  });
}
function drawTree(g,tree,n,y0,y1,xRight,w){
  const rh=(y1-y0)/n,out=[];
  treePath(tree,i=>y0+(i+.5)*rh,xRight,w,out);
  const p=mk('path',{d:out.join(''),fill:'none',stroke:'#777','stroke-width':.6},g);
  
  
}
function drawColorbar(g,x,y,w,h,labels,tickY,labelX){
  const b=mk('rect',{x:x,y:y,width:w,height:h,fill:'url(#ramp)'},g);
  
  
  labels.forEach((lab,i)=>{
    const t=mk('text',{x:labelX,y:tickY[i]+1.2,'font-size':3.8,fill:'#222'},g,lab);
    
    
  });
}
function drawBar(g,x0,x1,y,h,color){
  const b=mk('rect',{x:x0,y:y,width:x1-x0,height:h,fill:color},g);
  
  
}
function legendItem(g,x,y,size,label,color,fs,tx){
  const s=mk('rect',{x:x,y:y-size/2,width:size,height:size,fill:color},g);
  
  
  const t=mk('text',{x:tx,y:y+fs*.35,'font-size':fs,fill:'#222'},g,label);
  
  
}
function legendTitle(g,x,y,label,fs){
  const t=mk('text',{x:x,y:y+fs*.35,'font-size':fs,fill:'#222'},g,label);
  
  
}

/* ---------- panel D ---------- */
(function(){
  const g=$('pD');
  const groups=[[35,156],[156,232],[232,270]];
  drawHeatmap(g,geneRows,groups,364,570);
  drawRowLabels(g,geneLabels,'',272,364,570,3.8);
  drawTree(g,geneTree,geneRows.length,364,570,35,33);
  const trackH=[324,330,336,341,347];
  trackRows.forEach((s,k)=>{
    const w=235/s.length;
    for(let i=0;i<s.length;i++){
      drawBar(g,35+i*w,35+(i+1)*w+.1,trackH[k],4,trackColors[k][trackLetters.indexOf(s[i])]);
    }
    const t=mk('text',{x:272,y:trackH[k]+3.2,'font-size':3.8,fill:'#222'},g,trackNames[k]);
    
    
  });
  drawBar(g,35,147,352.5,3.8,'#30b050');
  drawBar(g,147,156,352.5,3.8,'#f08078');
  drawBar(g,156,226,352.5,3.8,'#30b050');
  drawBar(g,226,232,352.5,3.8,'#f08078');
  drawBar(g,232,270,352.5,3.8,'#30b050');
  drawBar(g,35,156,358,4.2,'#0a56a8');
  drawBar(g,156,232,358,4.2,'#f29100');
  drawBar(g,232,270,358,4.2,'#e60008');
  const a=mk('text',{x:272,y:356,'font-size':3.8,fill:'#222'},g,'Project');
  
  
  const b=mk('text',{x:272,y:361.5,'font-size':3.8,fill:'#222'},g,'PRGcluster');
  
  
  drawColorbar(g,296,323,6,106,colorbarTicksD,[327,344,360,376,391,408,424],304.5);
  legendGroupsD.forEach(gr=>{
    legendTitle(g,309.5,gr[1],gr[0],3.8);
    gr[2].forEach(it=>legendItem(g,309.5,it[1],5.6,it[0],it[2],3.6,317));
  });
})();

/* ---------- panel E ---------- */
(function(){
  const g=$('pE');
  const X=t=>389.7+18.75*t, Y=s=>480.3-149*s;
  const dash=mk('path',{d:'M'+X(0)+' '+Y(.5)+'H'+X(5.4)+'M'+X(4.5)+' '+Y(.5)+'V'+Y(0)+'M'+X(5.4)+' '+Y(.5)+'V'+Y(0),stroke:'#555','stroke-width':.9,'stroke-dasharray':'3 2.2',fill:'none'},g);
  
  
  function step(ts,ss){
    let d='M'+X(ts[0]).toFixed(1)+' '+Y(ss[0]).toFixed(1);
    for(let i=1;i<ts.length;i++)d+='H'+X(ts[i]).toFixed(1)+'V'+Y(ss[i]).toFixed(1);
    return d;
  }
  function surv(ts,ss,t){
    let v=ss[0];
    for(let i=0;i<ts.length;i++){if(ts[i]<=t)v=ss[i];}
    return v;
  }
  function censorPath(arr,ts,ss){
    return arr.map(t=>{const x=X(t),y=Y(surv(ts,ss,t));return 'M'+x.toFixed(1)+' '+(y-2)+'V'+(y+2)+'M'+(x-1.6).toFixed(1)+' '+y+'H'+(x+1.6).toFixed(1);}).join('');
  }
  const la=mk('path',{d:step(kmTimeA,kmSurvA),fill:'none',stroke:'#1a5cab','stroke-width':1.4},g);
  
  
  const ca=mk('path',{d:censorPath(censorA,kmTimeA,kmSurvA),fill:'none',stroke:'#4f82c4','stroke-width':.8},g);
  
  
  const lb=mk('path',{d:step(kmTimeB,kmSurvB),fill:'none',stroke:'#f29100','stroke-width':1.4},g);
  
  
  const cb=mk('path',{d:censorPath(censorB,kmTimeB,kmSurvB),fill:'none',stroke:'#f5a83a','stroke-width':.8},g);
  
  
  const lc=mk('path',{d:step(kmTimeC,kmSurvC),fill:'none',stroke:'#e8101c','stroke-width':1.4},g);
  
  
  const cc=mk('path',{d:censorPath(censorC,kmTimeC,kmSurvC),fill:'none',stroke:'#ec3a44','stroke-width':.8},g);
  
  
  const ax=mk('path',{d:'M378.3 326V487.7H635.7M378.3 552.7H635.7',fill:'none',stroke:'#333','stroke-width':.8},g);
  
  
  kmTicksY.forEach(t=>{
    const a=mk('path',{d:'M378.3 '+Y(t)+'H375.8',stroke:'#333','stroke-width':.6},g);
    
    
    const l=mk('text',{x:374.5,y:Y(t)+2.6,'text-anchor':'end','font-size':7.3,fill:'#222'},g,t.toFixed(2));
    
    
  });
  kmTicksX.forEach((t,i)=>{
    const a=mk('path',{d:'M'+X(t)+' 487.7V490.2M'+X(t)+' 552.7V555',stroke:'#333','stroke-width':.6},g);
    
    
    const l=mk('text',{x:X(t),y:497,'text-anchor':'middle','font-size':7.3,fill:'#222'},g,t);
    
    
    const m=mk('text',{x:X(t),y:562.5,'text-anchor':'middle','font-size':7.3,fill:'#222'},g,t);
    
    
    const ra=mk('text',{x:X(t),y:539.5,'text-anchor':'middle','font-size':8.4,fill:'#222'},g,riskA[i]);
    
    
    const rb=mk('text',{x:X(t),y:546,'text-anchor':'middle','font-size':8.4,fill:'#222'},g,riskB[i]);
    
    
    const rc=mk('text',{x:X(t),y:552,'text-anchor':'middle','font-size':8.4,fill:'#222'},g,riskC[i]);
    
    
  });
  const ya=mk('text',{x:369,y:539.5,'font-size':7.3,fill:'#1a5cab'},g,'A');
  
  
  const yb=mk('text',{x:369,y:546,'font-size':7.3,fill:'#f29100'},g,'B');
  
  
  const yc=mk('text',{x:369,y:552,'font-size':7.3,fill:'#e8101c'},g,'C');
  
  
})();

/* ---------- panels F, G, H ---------- */
function hallmarkPanel(g,rows,labels,tree,left,right,treeW,y0,y1,top1,top2,labX,cbX,cbY,colorA,colorB,nameA,nameB,splitA,splitB,ticksY){
  drawHeatmap(g,rows,[left,right],y0,y1);
  drawRowLabels(g,labels,'HALLMARK_',labX,y0,y1,3.1);
  drawTree(g,tree,rows.length,y0,y1,left[0],treeW);
  drawBar(g,left[0],left[1],top1,4.2,colorA);
  drawBar(g,right[0],right[1],top1,4.2,colorB);
  drawBar(g,left[0],splitA,top2,3.8,'#f08078');
  drawBar(g,splitA,left[1],top2,3.8,'#7fb800');
  drawBar(g,right[0],splitB,top2,3.8,'#f08078');
  drawBar(g,splitB,right[1],top2,3.8,'#7fb800');
  const t1=mk('text',{x:labX,y:top1+3.6,'font-size':3.6,fill:'#222'},g,'PRGcluster');
  
  
  const t2=mk('text',{x:labX,y:top2+3.2,'font-size':3.6,fill:'#222'},g,'Project');
  
  
  drawColorbar(g,cbX,cbY,4.8,72.5,colorbarTicks,ticksY,cbX+7);
  const lx=cbX+11.5;
  legendTitle(g,lx,cbY+1.5,'PRGcluster',3.6);
  legendItem(g,lx,cbY+7,5,nameA,colorA,3.6,lx+6.5);
  legendItem(g,lx,cbY+12.5,5,nameB,colorB,3.6,lx+6.5);
  legendTitle(g,lx,cbY+20.5,'Project',3.6);
  legendItem(g,lx,cbY+26.5,5,'GSE29609','#7fb800',3.6,lx+6.5);
  legendItem(g,lx,cbY+32,5,'TCGA','#f08078',3.6,lx+6.5);
}
hallmarkPanel($('pF'),rowsF,labelsF,treeF,[732,857.5],[859.5,938],26,348.7,541.3,338.7,344,941,1011,338,'#0a56a8','#f29100','A','B',848,933,[348.3,361,374,387,400]);
hallmarkPanel($('pG'),rowsG,labelsG,treeG,[27,182.7],[184.5,233.5],25,629,821.7,619,624,237,305.5,618.5,'#0a56a8','#e60008','A','C',171,232,[628,641.5,654.5,668,681.5]);
hallmarkPanel($('pH'),rowsH,labelsH,treeH,[373,508.5],[510.5,578.7],23,629,821.7,619,624,582,651.5,618.5,'#f29100','#e60008','B','C',498,577,[628,641.5,654.5,668,681.5]);

/* ---------- panel I ---------- */
(function(){
  const g=$('pI');
  const X=i=>745+14.09*i, Y=v=>759.3-130.6*v;
  const ax=mk('path',{d:'M736.7 622V765.3H1062.7',fill:'none',stroke:'#333','stroke-width':.8},g);
  
  
  immuneTicks.forEach(t=>{
    const a=mk('path',{d:'M736.7 '+Y(t)+'H734.5',stroke:'#333','stroke-width':.6},g);
    
    
    const l=mk('text',{x:733.5,y:Y(t)+2.4,'text-anchor':'end','font-size':6.6,fill:'#222'},g,t.toFixed(2));
    
    
  });
  immuneCells.forEach((name,i)=>{
    const tk=mk('path',{d:'M'+X(i)+' 765.3V767.5',stroke:'#333','stroke-width':.6},g);
    
    
    const l=mk('text',{transform:'translate('+(X(i)+2)+' 771) rotate(-45)','text-anchor':'end','font-size':6.9,fill:'#333'},g,name);
    
    
    const s=mk('text',{x:X(i),y:628,'text-anchor':'middle','font-size':6.6,fill:'#222'},g,immuneSig[i]);
    
    
  });
  function drawBox(cx,b,color){
    const w=mk('path',{d:'M'+cx+' '+Y(b[0])+'V'+Y(b[4]),stroke:color,'stroke-width':1,'stroke-opacity':.6},g);
    
    
    const r=mk('rect',{x:cx-1.9,y:Y(b[3]),width:3.8,height:Y(b[1])-Y(b[3]),fill:'#fff',stroke:color,'stroke-width':.65},g);
    
    
    const m=mk('path',{d:'M'+(cx-1.9)+' '+Y(b[2])+'H'+(cx+1.9),stroke:color,'stroke-width':.9},g);
    
    
  }
  function drawOut(cx,arr,color){
    arr.forEach(v=>{
      const c=mk('circle',{cx:cx,cy:Y(v),r:1.2,fill:color},g);
      
      
    });
  }
  immuneCells.forEach((_,i)=>{
    drawBox(X(i)-3.9,boxesA[i],'#3f6db5');
    drawOut(X(i)-3.9,outliersA[i],'#0d56a8');
    drawBox(X(i),boxesB[i],'#f0a030');
    drawOut(X(i),outliersB[i],'#f29100');
    drawBox(X(i)+3.9,boxesC[i],'#e8303a');
    drawOut(X(i)+3.9,outliersC[i],'#e60012');
  });
})();
</script>
</body>
</html>
